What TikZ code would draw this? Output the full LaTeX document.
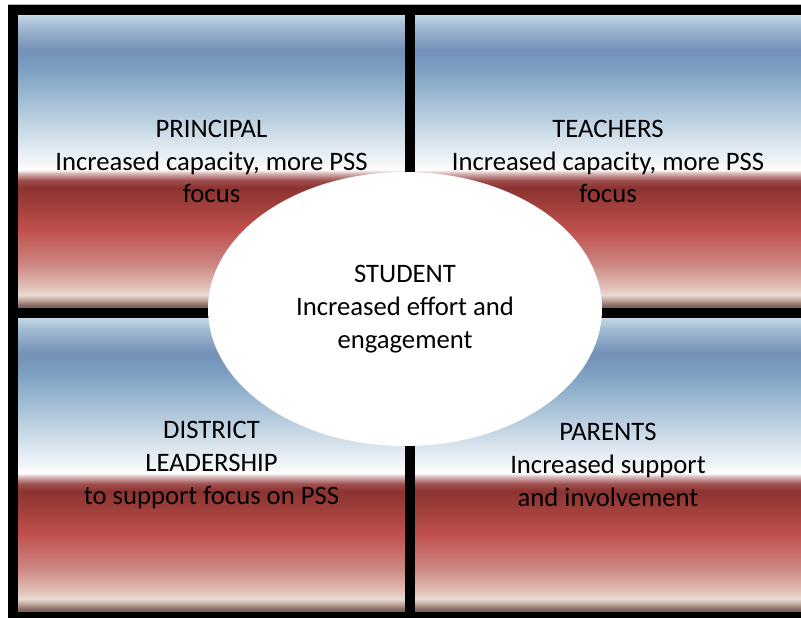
\documentclass[tikz,border=0pt]{standalone}
\usepackage{fontspec}
\setmainfont{Carlito}
\usepackage{tikz}
\usetikzlibrary{shapes.geometric}
\definecolor{ink}{HTML}{000000}
\definecolor{frame}{HTML}{000000}
\definecolor{sA}{HTML}{706060}
\definecolor{sB}{HTML}{8A6A64}
\definecolor{sC}{HTML}{C0A8A0}
\definecolor{sD}{HTML}{EADBD4}
\definecolor{sE}{HTML}{E4C8C0}
\definecolor{sF}{HTML}{CC8883}
\definecolor{sG}{HTML}{C0504D}
\definecolor{sH}{HTML}{9A3C38}
\definecolor{sI}{HTML}{8B3330}
\definecolor{sJ}{HTML}{A05050}
\definecolor{sK}{HTML}{D8B8B8}
\definecolor{sL}{HTML}{FFFFFF}
\definecolor{sM}{HTML}{F6F8FA}
\definecolor{sN}{HTML}{D6E2EC}
\definecolor{sO}{HTML}{A8C2D8}
\definecolor{sP}{HTML}{7DA0C2}
\definecolor{sQ}{HTML}{7490B8}
\definecolor{sR}{HTML}{A5BDD3}
\definecolor{sS}{HTML}{C4D8E6}
\pgfdeclareverticalshading{boxshade}{100bp}{%
  color(0bp)=(sA); color(25bp)=(sA); color(25.5bp)=(sB);
  color(26.4bp)=(sC); color(27.2bp)=(sD); color(28.1bp)=(sE);
  color(32.3bp)=(sF); color(38.3bp)=(sG); color(43.4bp)=(sH);
  color(45.6bp)=(sI); color(46.8bp)=(sJ); color(48bp)=(sK);
  color(48.6bp)=(sL); color(49.4bp)=(sM); color(53.7bp)=(sN);
  color(59.6bp)=(sO); color(65.6bp)=(sP); color(69bp)=(sQ);
  color(73.3bp)=(sR); color(75bp)=(sS); color(100bp)=(sS)}
\tikzset{
  quad/.style={rectangle, shade, shading=boxshade, inner sep=0pt,
    minimum width=290.25pt, minimum height=219.75pt, align=center,
    text=ink, font=\fontsize{20pt}{24.5pt}\selectfont},
  bar/.style={fill=frame, draw=none},
  hub/.style={ellipse, fill=white, draw=none, inner sep=0pt,
    minimum width=295.5pt, minimum height=205.5pt, align=center,
    text=ink, font=\fontsize{20pt}{24.5pt}\selectfont},
}
\begin{document}
\begin{tikzpicture}[x=0.75pt, y=-0.75pt]
  \useasboundingbox (0,0) rectangle (801,618);

  % the four quarters
  \node[quad] (principal) at (211.5,161.5) {PRINCIPAL\\Increased capacity, more PSS\\focus};
  \node[quad, minimum width=289.5pt] (teachers) at (608,161.5) {TEACHERS\\Increased capacity, more PSS\\focus};
  \node[quad, minimum height=220.5pt] (district) at (211.5,465) {DISTRICT\\LEADERSHIP\\to support focus on PSS};
  \node[quad, minimum width=289.5pt, minimum height=220.5pt] (parents) at (608,465) {PARENTS\\Increased support\\and involvement};

  % black frame and dividers
  \draw[gray!60, line width=0.75pt] (8,4) -- (801,4);
  \fill[bar] (8,5) rectangle (801,15);
  \fill[bar] (8,5) rectangle (18,618);
  \fill[bar] (8,612) rectangle (801,618);
  \fill[bar] (405,15) rectangle (415,612);
  \fill[bar] (18,308) rectangle (801,318);

  % centre
  \node[hub] (student) at (405,309) {STUDENT\\Increased effort and\\engagement};
\end{tikzpicture}
\end{document}
